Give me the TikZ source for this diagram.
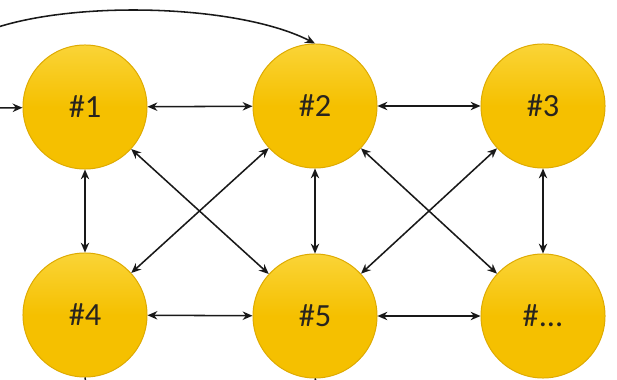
\documentclass[tikz,border=0pt]{standalone}
\usepackage{fontspec}
\setmainfont{Carlito}
\usetikzlibrary{arrows.meta}

\definecolor{ballgold}{RGB}{245,192,0}
\definecolor{balllight}{RGB}{250,212,55}
\definecolor{ballrim}{RGB}{222,170,0}
\definecolor{labelgray}{RGB}{40,36,30}

\tikzset{
  ball/.style={circle, draw=ballrim, line width=0.7pt, minimum size=3.1cm,
    top color=balllight, bottom color=ballgold, middle color=ballgold,
    text=labelgray, font=\fontsize{23}{26}\selectfont, inner sep=0pt},
  link/.style={line width=1.1pt, black!90, {Stealth[length=7pt,width=6pt]}-{Stealth[length=7pt,width=6pt]}},
  feed/.style={line width=1.1pt, black!90, -{Stealth[length=7pt,width=6pt]}}
}

\begin{document}
\begin{tikzpicture}[x=0.025cm, y=-0.025cm]

\useasboundingbox (0,0) rectangle (617,380);

% the nodes
\node[ball] (n1) at (85,107) {\#1};
\node[ball] (n2) at (315,106) {\#2};
\node[ball] (n3) at (543,106) {\#3};
\node[ball] (n4) at (85,315) {\#4};
\node[ball] (n5) at (315,316) {\#5};
\node[ball] (n6) at (543,316) {\#...};

% connections between the nodes
\foreach \a/\b in {n1/n2, n2/n3, n4/n5, n5/n6, n1/n4, n2/n5, n3/n6, n1/n5, n2/n4, n2/n6, n3/n5} {
    \draw[link] (\a) -- (\b);
}

% incoming and outgoing
\coordinate (inleft) at (-5,108);
\coordinate (incurve) at (-5,28);
\coordinate (out4) at (88,395);
\coordinate (out5) at (322,395);
\draw[feed] (inleft) -- (n1);
\draw[feed] (incurve) .. controls (80,0) and (240,5) .. (n2.north);
\draw[line width=1.1pt, black!90] (n4.south) -- (out4);
\draw[line width=1.1pt, black!90] (n5.south) -- (out5);

\end{tikzpicture}
\end{document}
